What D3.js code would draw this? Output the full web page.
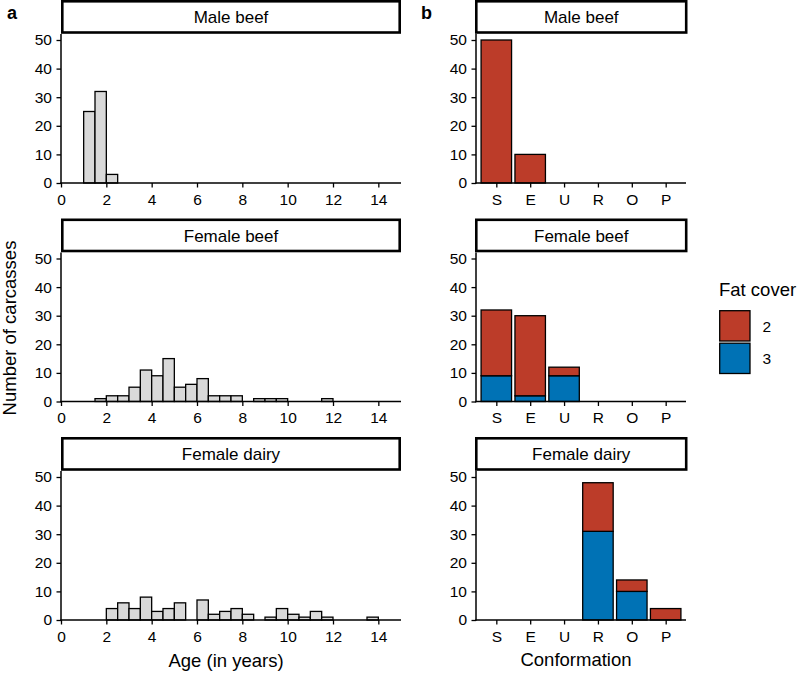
<!DOCTYPE html>
<html>
<head>
<meta charset="utf-8">
<script src="https://cdn.jsdelivr.net/npm/d3@7"></script>
<style>
  html, body { margin: 0; padding: 0; background: #fff; }
  svg { display: block; font-family: "Liberation Sans", Arial, sans-serif; }
</style>
</head>
<body>
<svg id="chart" width="797" height="673"></svg>
<script>
// ---------------- DATA ----------------
const groups = ["Male beef", "Female beef", "Female dairy"];

// histogram bin left edges (years), bin width 0.5
const binStarts = [0, 0.5, 1, 1.5, 2, 2.5, 3, 3.5, 4, 4.5, 5, 5.5, 6, 6.5, 7,
                   7.5, 8, 8.5, 9, 9.5, 10, 10.5, 11, 11.5, 12, 12.5, 13, 13.5, 14, 14.5];
const binWidth = 0.5;
const ageMaleBeef    = [0, 0, 25, 32, 3, 0, 0, 0, 0, 0, 0, 0, 0, 0, 0,
                        0, 0, 0, 0, 0, 0, 0, 0, 0, 0, 0, 0, 0, 0, 0];
const ageFemaleBeef  = [0, 0, 0, 1, 2, 2, 5, 11, 9, 15, 5, 6, 8, 2, 2,
                        2, 0, 1, 1, 1, 0, 0, 0, 1, 0, 0, 0, 0, 0, 0];
const ageFemaleDairy = [0, 0, 0, 0, 4, 6, 4, 8, 3, 4, 6, 0, 7, 2, 3,
                        4, 2, 0, 1, 4, 2, 1, 3, 1, 0, 0, 0, 1, 0, 0];
const ageTicks = [0, 2, 4, 6, 8, 10, 12, 14];

const conformation = ["S", "E", "U", "R", "O", "P"];
const fatLevels = ["2", "3"];
// counts per conformation class
const fat2MaleBeef    = [50, 10, 0, 0, 0, 0];
const fat3MaleBeef    = [0, 0, 0, 0, 0, 0];
const fat2FemaleBeef  = [23, 28, 3, 0, 0, 0];
const fat3FemaleBeef  = [9, 2, 9, 0, 0, 0];
const fat2FemaleDairy = [0, 0, 0, 17, 4, 4];
const fat3FemaleDairy = [0, 0, 0, 31, 10, 0];

const countTicks = [0, 10, 20, 30, 40, 50];

const ageSeries = [ageMaleBeef, ageFemaleBeef, ageFemaleDairy];
const fat2Series = [fat2MaleBeef, fat2FemaleBeef, fat2FemaleDairy];
const fat3Series = [fat3MaleBeef, fat3FemaleBeef, fat3FemaleDairy];

// ---------------- STYLE / LAYOUT ----------------
const colors = { "2": "#BC3C29", "3": "#0072B5" };
const histFill = "#d9d9d9";
const baselines = [183, 401.5, 620];
const yTopOffset = 149;   // from baseline up to strip bottom
const tickFont = 15.5;

const svg = d3.select("#chart");

const xAge = d3.scaleLinear().domain([0, 15]).range([61, 401]);
const xConf = d3.scalePoint().domain(conformation).range([476, 686]).padding(0.6);
const barW = xConf.step() * 0.9;

function yScale(b) {
  return d3.scaleLinear().domain([0, 50]).range([b, b - 143]);
}

function drawStrip(x0, x1, b, label) {
  const g = svg.append("g");
  g.append("rect")
    .attr("x", x0 + 1.3).attr("y", b - 181.7)
    .attr("width", x1 - x0 - 2.6).attr("height", 31.2)
    .attr("fill", "#fff").attr("stroke", "#000").attr("stroke-width", 2.6);
  g.append("text")
    .attr("x", (x0 + x1) / 2).attr("y", b - 160)
    .attr("text-anchor", "middle").attr("font-size", 17).attr("fill", "#000")
    .text(label);
}

function drawYAxis(xPos, y, b) {
  const ax = d3.axisLeft(y).tickValues(countTicks).tickSize(4.5).tickPadding(4.5);
  const g = svg.append("g").attr("transform", `translate(${xPos},0)`).call(ax);
  g.select(".domain").remove();
  g.selectAll(".tick line").attr("stroke", "#000").attr("stroke-width", 1.3);
  g.selectAll(".tick text").attr("font-size", tickFont).attr("fill", "#000")
    .attr("font-family", "Liberation Sans, Arial, sans-serif");
  svg.append("line").attr("x1", xPos).attr("x2", xPos)
    .attr("y1", b + 0.7).attr("y2", b - yTopOffset)
    .attr("stroke", "#000").attr("stroke-width", 1.5);
}

function drawXAxis(scale, b, vals, x0, x1) {
  const ax = d3.axisBottom(scale).tickSize(4.5).tickPadding(6);
  if (vals) ax.tickValues(vals);
  const g = svg.append("g").attr("transform", `translate(0,${b})`).call(ax);
  g.select(".domain").remove();
  g.selectAll(".tick line").attr("stroke", "#000").attr("stroke-width", 1.3);
  g.selectAll(".tick text").attr("font-size", tickFont).attr("fill", "#000")
    .attr("font-family", "Liberation Sans, Arial, sans-serif");
  svg.append("line").attr("x1", x0 - 0.7).attr("x2", x1)
    .attr("y1", b).attr("y2", b)
    .attr("stroke", "#000").attr("stroke-width", 1.5);
}

groups.forEach((grp, i) => {
  const b = baselines[i];
  const y = yScale(b);

  // ---- panel a: histogram ----
  const hist = binStarts.map((s, k) => ({ s, n: ageSeries[i][k] })).filter(d => d.n > 0);
  svg.append("g").selectAll("rect").data(hist).join("rect")
    .attr("x", d => xAge(d.s))
    .attr("y", d => y(d.n))
    .attr("width", d => xAge(d.s + binWidth) - xAge(d.s))
    .attr("height", d => y(0) - y(d.n))
    .attr("fill", histFill).attr("stroke", "#000").attr("stroke-width", 1.3);
  drawYAxis(61, y, b);
  drawXAxis(xAge, b, ageTicks, 61, 401);
  drawStrip(61, 401, b, grp);

  // ---- panel b: stacked bars ----
  const stackData = conformation.map((c, k) => ({ c, "3": fat3Series[i][k], "2": fat2Series[i][k] }));
  const stacked = d3.stack().keys(["3", "2"])(stackData);
  svg.append("g").selectAll("g").data(stacked).join("g")
    .attr("fill", d => colors[d.key])
    .selectAll("rect").data(d => d.filter(p => p[1] - p[0] > 0)).join("rect")
    .attr("x", p => xConf(p.data.c) - barW / 2)
    .attr("y", p => y(p[1]))
    .attr("width", barW)
    .attr("height", p => y(p[0]) - y(p[1]))
    .attr("stroke", "#000").attr("stroke-width", 1.3);
  drawYAxis(476, y, b);
  drawXAxis(xConf, b, null, 476, 686);
  drawStrip(475, 687.5, b, grp);
});

// ---------------- titles ----------------
svg.append("text").attr("x", 226).attr("y", 667).attr("text-anchor", "middle")
  .attr("font-size", 18.5).text("Age (in years)");
svg.append("text").attr("x", 576).attr("y", 666).attr("text-anchor", "middle")
  .attr("font-size", 18.5).text("Conformation");
svg.append("text")
  .attr("transform", "translate(16,328) rotate(-90)")
  .attr("text-anchor", "middle").attr("font-size", 18.5).text("Number of carcasses");

svg.append("text").attr("x", 7).attr("y", 19).attr("font-size", 18)
  .attr("font-weight", "bold").text("a");
svg.append("text").attr("x", 421).attr("y", 19).attr("font-size", 18)
  .attr("font-weight", "bold").text("b");

// ---------------- legend ----------------
const leg = svg.append("g");
leg.append("text").attr("x", 719).attr("y", 296).attr("font-size", 18.5).text("Fat cover");
fatLevels.forEach((lv, k) => {
  const top = 310.7 + k * 32.5;
  leg.append("rect").attr("x", 719.7).attr("y", top)
    .attr("width", 30.3).attr("height", 30.3)
    .attr("fill", colors[lv]).attr("stroke", "#000").attr("stroke-width", 1.3);
  leg.append("text").attr("x", 762.5).attr("y", top + 15.5).attr("dy", "0.35em")
    .attr("font-size", 15.5).text(lv);
});
</script>
</body>
</html>
